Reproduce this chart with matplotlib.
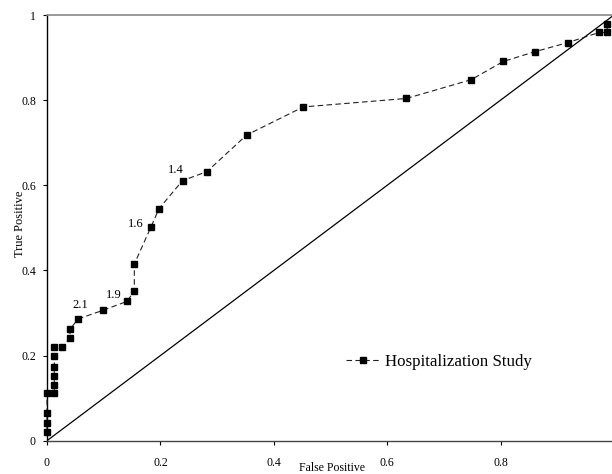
import matplotlib
matplotlib.use("Agg")
import matplotlib.pyplot as plt

# ROC curve data (False Positive, True Positive)
fp = [0.0, 0.0, 0.0, 0.0, 0.0129, 0.0129, 0.0129, 0.0129, 0.0129, 0.0129,
      0.026, 0.0406, 0.0406, 0.055, 0.098, 0.1406, 0.154, 0.154, 0.183,
      0.1975, 0.239, 0.282, 0.352, 0.452, 0.634, 0.748, 0.805, 0.861,
      0.918, 0.974, 0.988, 0.988]
tp = [0.021, 0.042, 0.065, 0.111, 0.111, 0.130, 0.153, 0.174, 0.198, 0.219,
      0.219, 0.241, 0.262, 0.286, 0.306, 0.327, 0.351, 0.415, 0.501,
      0.545, 0.611, 0.632, 0.718, 0.784, 0.804, 0.848, 0.891, 0.914,
      0.935, 0.959, 0.959, 0.980]

diag = [0.0, 1.0]

cut_labels = ["2.1", "1.9", "1.6", "1.4"]
cut_x = [0.058, 0.117, 0.157, 0.2275]
cut_y = [0.319, 0.343, 0.510, 0.635]

series_name = "Hospitalization Study"
x_ticks = [0, 0.2, 0.4, 0.6, 0.8]
x_tick_labels = ["0", "0.2", "0.4", "0.6", "0.8"]
y_ticks = [0, 0.2, 0.4, 0.6, 0.8, 1.0]
y_tick_labels = ["0", "0.2", "0.4", "0.6", "0.8", "1"]

plt.rcParams['font.family'] = ['Liberation Serif', 'DejaVu Serif']

W, H = 612, 474
fig = plt.figure(figsize=(W / 100, H / 100), dpi=100)
ax = fig.add_axes([47 / W, 1 - 440.7 / H, 1 - 47 / W, (440.7 - 15) / H])

ax.plot(diag, diag, color='black', lw=0.9, zorder=2)
ax.plot(fp, tp, color='#222222', lw=0.8, ls=(0, (5, 3)), marker='s',
        markersize=4.2, markerfacecolor='black', markeredgecolor='black',
        label=series_name, zorder=3, clip_on=False)

for lab, x, y in zip(cut_labels, cut_x, cut_y):
    ax.text(x, y, lab, ha='center', va='center', fontsize=9)

ax.set_xlim(0, (W - 47) / 567)
ax.set_ylim(0, 1)
ax.set_xticks(x_ticks)
ax.set_xticklabels(x_tick_labels)
ax.set_yticks(y_ticks)
ax.set_yticklabels(y_tick_labels)
ax.tick_params(axis='x', direction='out', length=3, width=0.8, pad=9, labelsize=8.5)
ax.tick_params(axis='y', direction='out', length=3, width=0.8, pad=5, labelsize=8.5)

ax.spines['right'].set_visible(False)
ax.spines['top'].set_color('#888888')
ax.spines['top'].set_linewidth(1.2)
ax.spines['bottom'].set_color('#444444')
ax.spines['bottom'].set_linewidth(1.0)
ax.spines['left'].set_color('black')
ax.spines['left'].set_linewidth(1.0)

fig.text(20 / W, 1 - 224 / H, "True Positive", ha='center', va='center',
         rotation=90, fontsize=9)
fig.text(332 / W, 1 - 468 / H, "False Positive", ha='center', va='center',
         fontsize=8.5)

leg = ax.legend(loc='center left', bbox_to_anchor=(346 / W, 1 - 362 / H),
                bbox_transform=fig.transFigure, frameon=False, fontsize=12.2,
                handlelength=2.0, handletextpad=0.3, borderpad=0,
                borderaxespad=0, numpoints=1)

fig.savefig("out.png", dpi=100)
